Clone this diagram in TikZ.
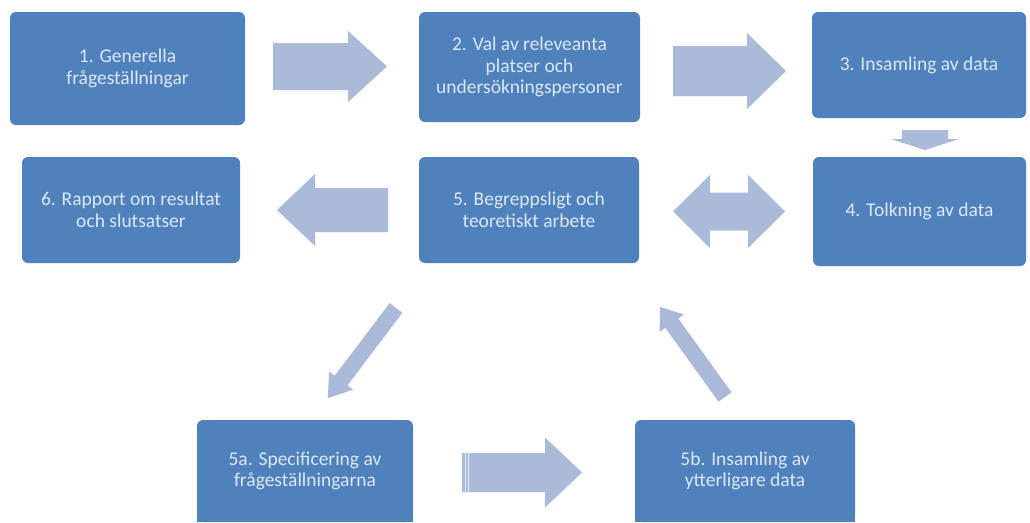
\documentclass[tikz,border=0pt]{standalone}
\usepackage{fontspec}
\setmainfont{Carlito}
\begin{document}
\begin{tikzpicture}[x=1pt,y=-1pt,
  box/.style={rectangle,rounded corners=6pt,fill=boxblue,text=boxtext,align=center,
    inner sep=0pt,font=\fontsize{19.5}{21.5}\selectfont},
  pics/barrow/.style args={#1/#2/#3/#4}{code={
    \fill[arrowfill] (0,-#2) -- (#1-#4,-#2) -- (#1-#4,-#3) -- (#1,0) -- (#1-#4,#3) -- (#1-#4,#2) -- (0,#2) -- cycle;}},
  pics/dbarrow/.style args={#1/#2/#3/#4}{code={
    \fill[arrowfill] (0,0) -- (#4,-#3) -- (#4,-#2) -- (#1-#4,-#2) -- (#1-#4,-#3) -- (#1,0)
      -- (#1-#4,#3) -- (#1-#4,#2) -- (#4,#2) -- (#4,#3) -- cycle;}}
]
\definecolor{boxblue}{RGB}{79,129,189}
\definecolor{boxtext}{RGB}{222,231,243}
\definecolor{arrowfill}{RGB}{170,186,216}
\useasboundingbox[fill=white] (0,0) rectangle (1030,522);

% boxes
\node[box,minimum width=235pt,minimum height=113pt] (b1) at (127.5,68.5) {1. Generella\\frågeställningar};
\node[box,minimum width=221pt,minimum height=110pt] (b2) at (529.5,67) {2. Val av releveanta\\platser och\\undersökningspersoner};
\node[box,minimum width=214pt,minimum height=106pt] (b3) at (919,65) {3. Insamling av data};
\node[box,minimum width=213pt,minimum height=109pt] (b4) at (919.5,211.5) {4. Tolkning av data};
\node[box,minimum width=220pt,minimum height=106pt] (b5) at (529,210) {5. Begreppsligt och\\teoretiskt arbete};
\node[box,minimum width=218pt,minimum height=106pt] (b6) at (131,210) {6. Rapport om resultat\\och slutsatser};
\node[box,minimum width=216pt,minimum height=102pt] (b5a) at (305,471) {5a. Specificering av\\frågeställningarna};
\node[box,minimum width=220pt,minimum height=102pt] (b5b) at (745,471) {5b. Insamling av\\ytterligare data};
\fill[boxblue] ([yshift=8pt]b5a.south west) rectangle (b5a.south east);
\fill[boxblue] ([yshift=8pt]b5b.south west) rectangle (b5b.south east);

% block arrows
\pic at (273,66.5) {barrow=114/23.5/35.5/39};
\pic at (673,71) {barrow=113/25/38/39};
\pic[rotate=-90] at (925,130) {barrow=20/23/34/11};
\pic[rotate=180] at (388,210) {barrow=111/22/36/38};
\pic at (673,211.5) {dbarrow=112/19/36.5/37};
\pic[rotate=232.9] at (396,308) {barrow=113/8/15/22};
\pic[rotate=125.8] at (725,397) {barrow=111/8/15/20};
\pic at (462,472.5) {barrow=120/19.5/35/37};
\draw[white,line width=0.8pt,opacity=0.7] (465,453) -- (465,492) (468.5,453) -- (468.5,492);
\end{tikzpicture}
\end{document}
